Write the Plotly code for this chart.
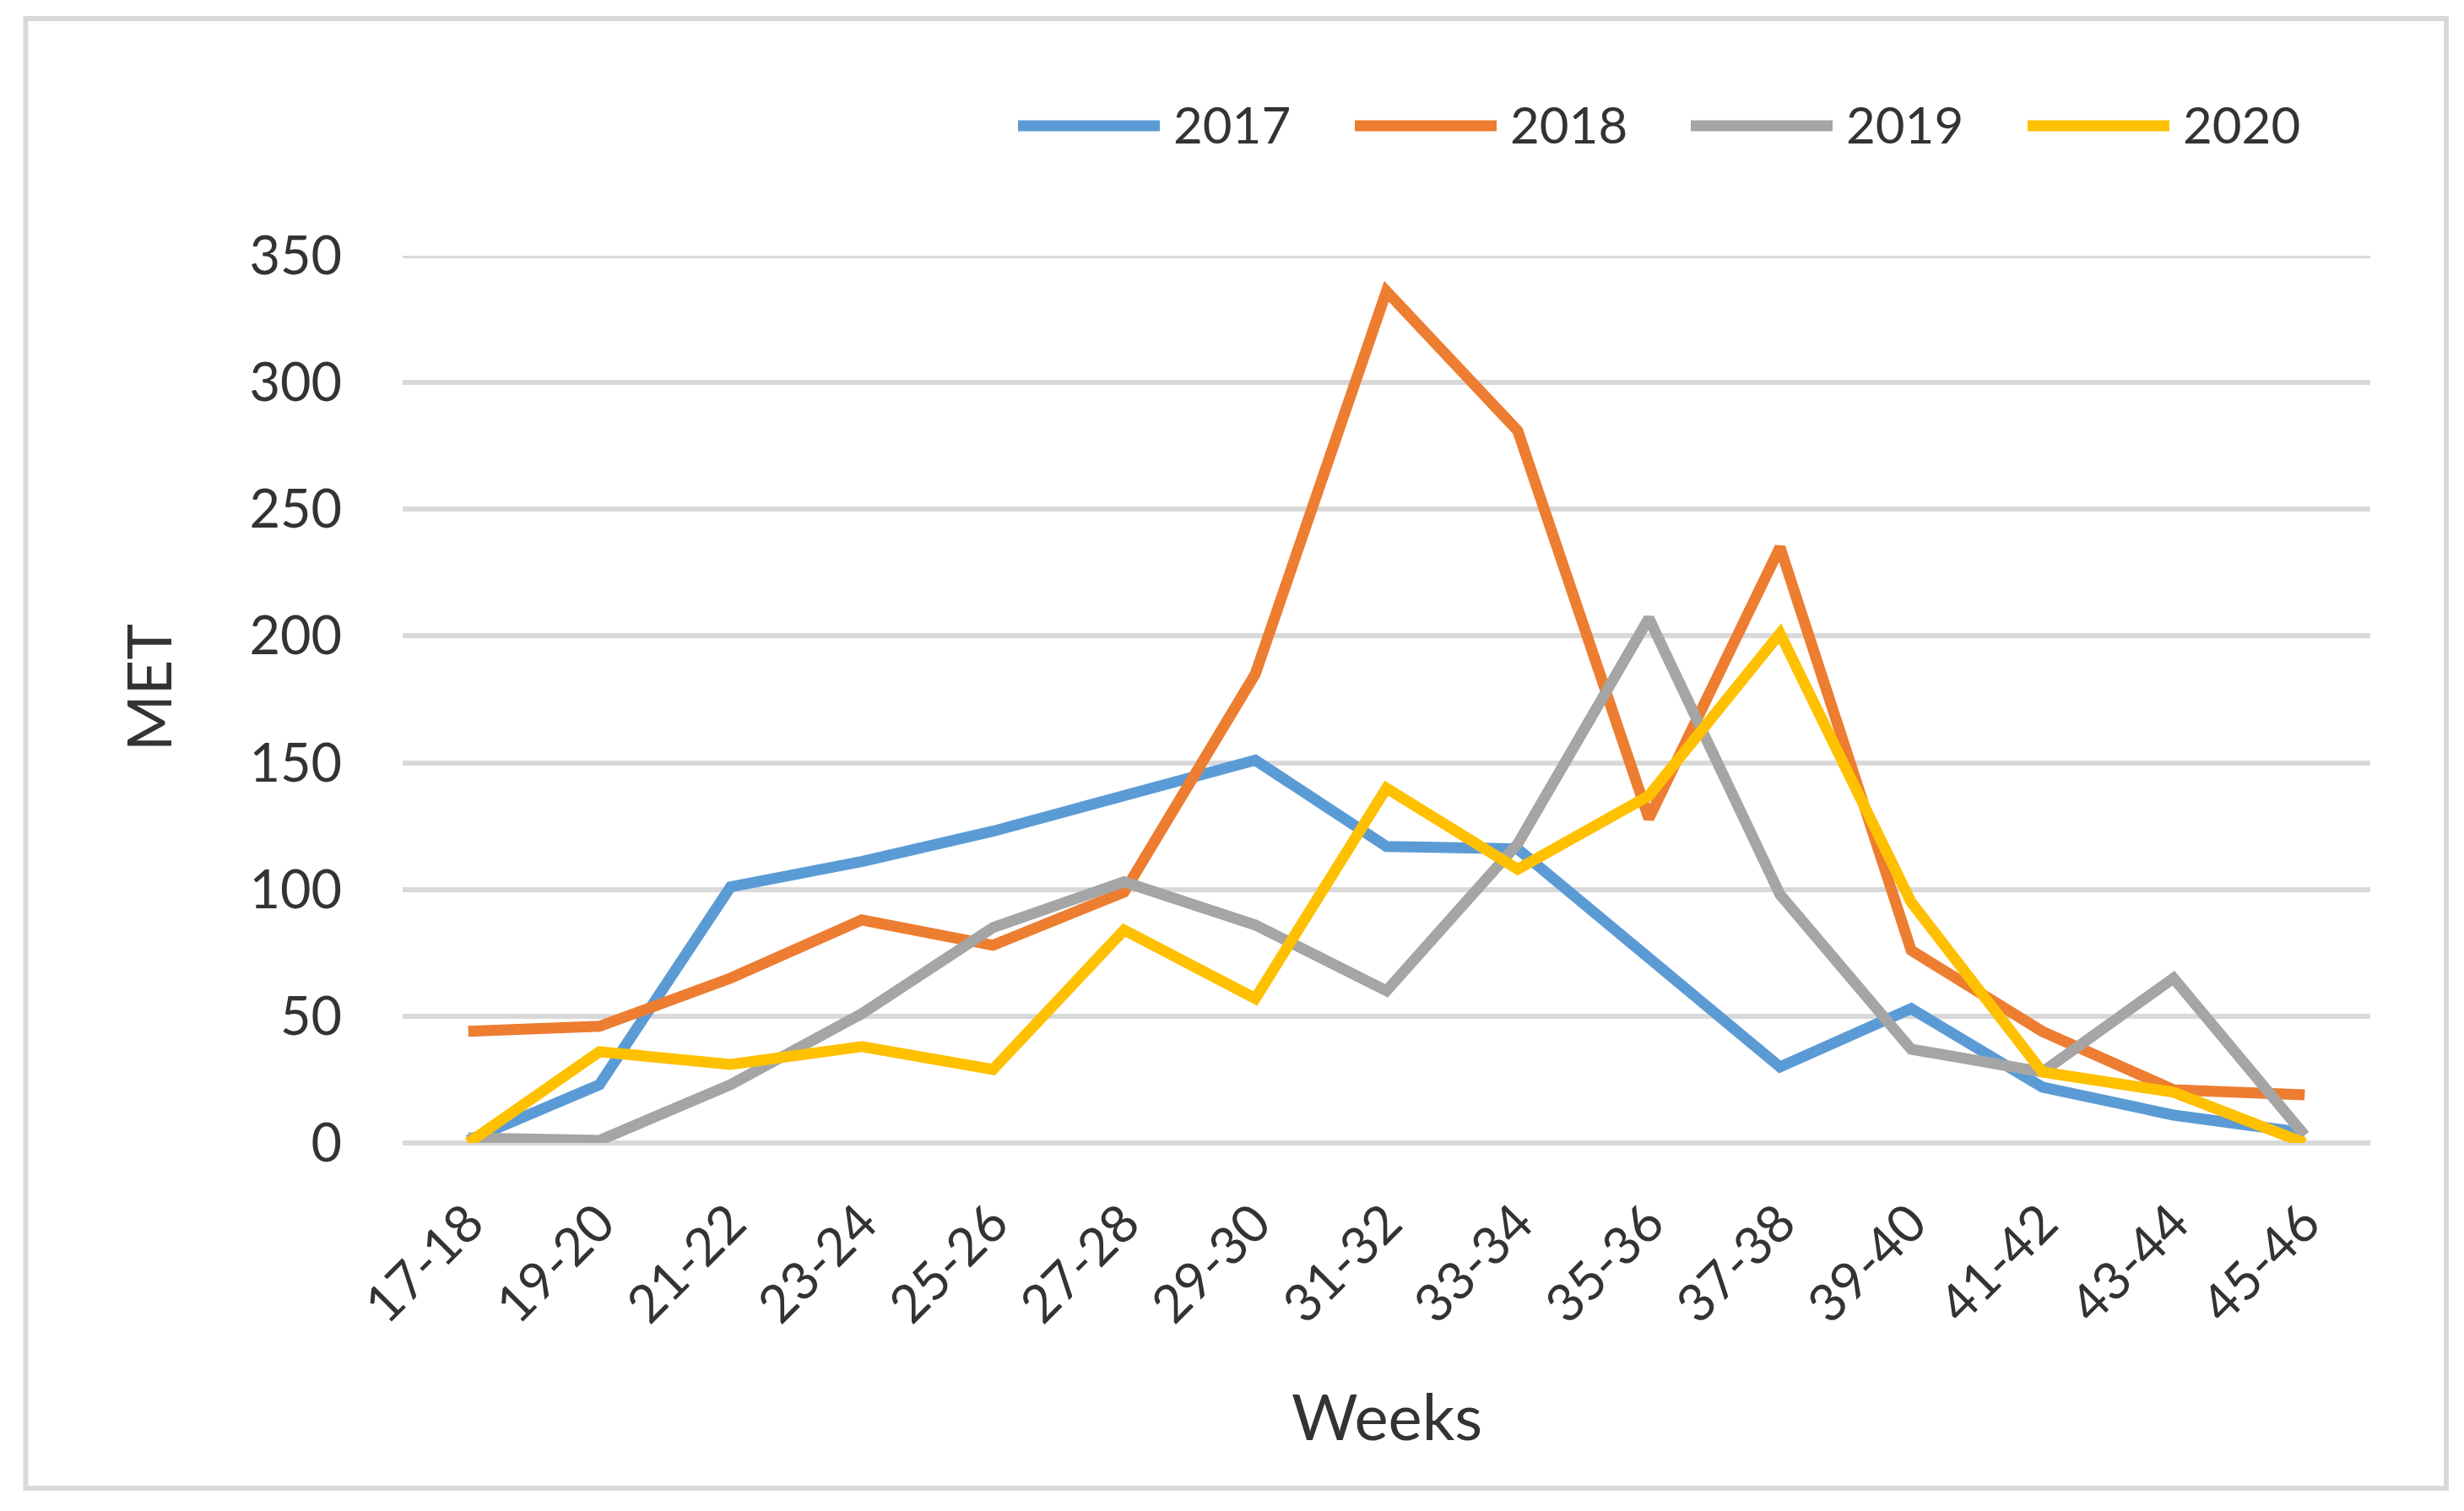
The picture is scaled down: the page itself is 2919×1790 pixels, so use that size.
import plotly.graph_objects as go

weeks = ["17-18", "19-20", "21-22", "23-24", "25-26", "27-28", "29-30", "31-32",
         "33-34", "35-36", "37-38", "39-40", "41-42", "43-44", "45-46"]
met_2017 = [1, 23, 101, 111, 123, 137, 151, 117, 116, 73, 30, 53, 22, 11, 4]
met_2018 = [44, 46, 65, 88, 78, 99, 185, 336, 281, 128, 235, 76, 44, 21, 19]
met_2019 = [2, 1, 23, 51, 85, 103, 86, 60, 118, 207, 98, 37, 28, 65, 3]
met_2020 = [0, 36, 31, 38, 29, 84, 57, 140, 108, 137, 201, 95, 28, 20, 0]
series_names = ["2017", "2018", "2019", "2020"]
series_values = [met_2017, met_2018, met_2019, met_2020]
colors = ["#5B9BD5", "#ED7D31", "#A5A5A5", "#FFC000"]
y_ticks = [0, 50, 100, 150, 200, 250, 300, 350]

OFF = 8  # default page body margin
W, H = 2919 - 2 * OFF, 1790 - 2 * OFF
L, R, T, B = 477 - OFF, 2808 - OFF, 303 - OFF, 1354 - OFF
PW, PH = R - L, B - T


def px(X):
    return (X - OFF - L) / PW


def py(Y):
    return (B - (Y - OFF)) / PH


FONT = "Lato"
TXT = "#333333"
GRID = "#D9D9D9"

fig = go.Figure()
for name, vals, col in zip(series_names, series_values, colors):
    fig.add_trace(go.Scatter(x=weeks, y=vals, mode="lines", name=name,
                             line=dict(color=col, width=13), showlegend=False))

shapes = []
annotations = []
# outer border
shapes.append(dict(type="rect", xref="paper", yref="paper",
                   x0=px(30.5), x1=px(2898), y0=py(1763), y1=py(22),
                   line=dict(color=GRID, width=6), layer="below"))
# top gridline (at the axis maximum)
shapes.append(dict(type="line", xref="paper", yref="y", x0=0, x1=1,
                   y0=y_ticks[-1], y1=y_ticks[-1], line=dict(color=GRID, width=6),
                   layer="below"))
# custom legend
leg_x = [1206, 1605, 2003, 2402]
for name, col, lx in zip(series_names, colors, leg_x):
    shapes.append(dict(type="line", xref="paper", yref="paper",
                       x0=px(lx), x1=px(lx + 168), y0=py(149), y1=py(149),
                       line=dict(color=col, width=13)))
    annotations.append(dict(text=name, xref="paper", yref="paper",
                            x=px(lx + 182), y=py(147), xanchor="left", yanchor="middle",
                            showarrow=False, font=dict(family=FONT, size=60, color=TXT)))
# axis titles
annotations.append(dict(text="MET", xref="paper", yref="paper", x=px(175), y=py(815),
                        textangle=-90, showarrow=False, xanchor="center", yanchor="middle",
                        font=dict(family=FONT, size=72, color=TXT)))
annotations.append(dict(text="Weeks", xref="paper", yref="paper", x=px(1643), y=py(1676),
                        showarrow=False, xanchor="center", yanchor="middle",
                        font=dict(family=FONT, size=76, color=TXT)))

fig.update_layout(
    width=W, height=H,
    margin=dict(l=L, r=W - R, t=T, b=H - B, pad=0),
    paper_bgcolor="white", plot_bgcolor="white",
    shapes=shapes, annotations=annotations,
    font=dict(family=FONT, color=TXT),
)
fig.update_xaxes(type="category", range=[-0.5, len(weeks) - 0.5], showgrid=False,
                 showline=False, zeroline=False, ticks="", tickangle=-45,
                 tickfont=dict(family=FONT, size=62, color=TXT), ticklabelstandoff=45,
                 automargin=False)
fig.update_yaxes(range=[0, 350], tickvals=y_ticks, showgrid=True, gridcolor=GRID,
                 gridwidth=6, zeroline=True, zerolinecolor=GRID, zerolinewidth=6,
                 showline=False, ticks="", tickfont=dict(family=FONT, size=63, color=TXT),
                 ticklabelstandoff=71, automargin=False)

fig.write_html("out.html")
